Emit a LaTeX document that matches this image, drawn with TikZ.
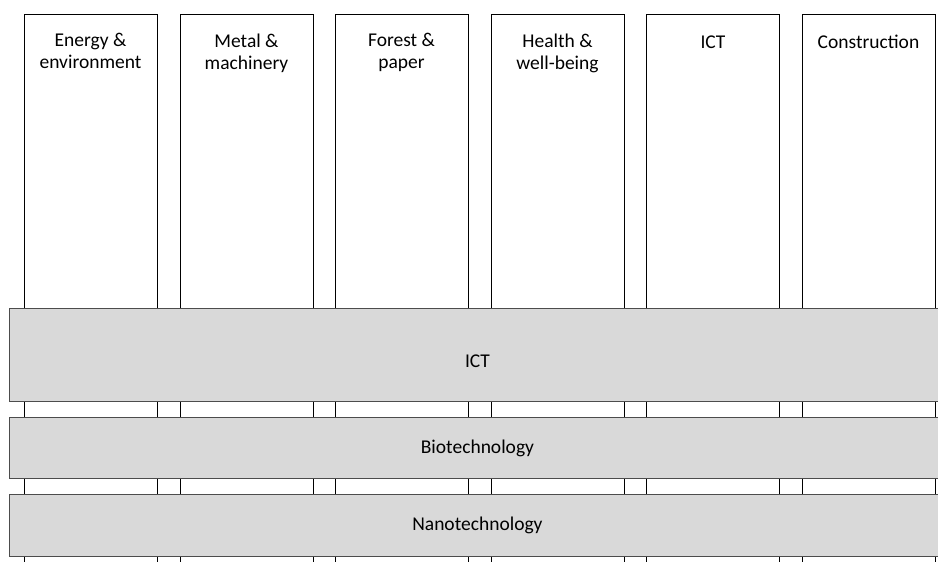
\documentclass[tikz,border=0pt]{standalone}
\usepackage{fontspec}
\setmainfont{Carlito}
\usetikzlibrary{positioning}

\begin{document}
\begin{tikzpicture}[
    x=1pt, y=-1pt,
    sector/.style={rectangle, draw=black, line width=0.9pt, fill=white, minimum width=133pt, minimum height=620pt, anchor=north, inner sep=0pt},
    sectorname/.style={anchor=north, align=center, font=\fontsize{19.5}{22}\selectfont, execute at begin node=\strut, yshift=-16pt},
    layer/.style={rectangle, draw=black!70, line width=0.9pt, fill=black!15, minimum width=936pt, anchor=north west, inner sep=0pt, font=\fontsize{19.5}{22}\selectfont}
    ]

    \useasboundingbox (0,0) rectangle (938,562);
    \clip (0,0) rectangle (938,562);

    \node[sector, label={[sectorname]north:Energy \&\\environment}] (energy) at (90.5,14) {};
    \node[sector, label={[sectorname]north:Metal \&\\machinery}] (metal) at (246.5,14) {};
    \node[sector, label={[sectorname]north:Forest \&\\paper}] (forest) at (401.5,14) {};
    \node[sector, label={[sectorname]north:Health \&\\well-being}] (health) at (557.5,14) {};
    \node[sector, label={[sectorname]north:ICT}] (ictsector) at (713,14) {};
    \node[sector, label={[sectorname]north:Construction}] (construction) at (868.5,14) {};

    \node[layer, minimum height=93pt, text height=26pt, text depth=0pt] (ict) at (9,308) {ICT};
    \node[layer, minimum height=61pt] (bio) at (9,417) {Biotechnology};
    \node[layer, minimum height=62pt] (nano) at (9,494) {Nanotechnology};

\end{tikzpicture}
\end{document}
